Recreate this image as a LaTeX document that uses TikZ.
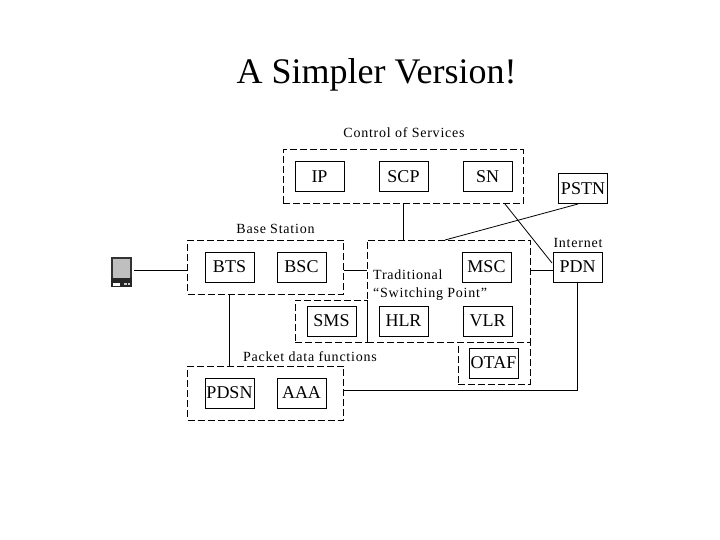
\documentclass[tikz,border=0pt]{standalone}
\usepackage{fontspec}
\setmainfont{Liberation Serif}
\newfontfamily\labfont[LetterSpace=5.5,Ligatures=NoCommon]{Liberation Serif}
\begin{document}
\begin{tikzpicture}[x=1pt,y=-1pt,
  box/.style={draw=black,line width=1pt,minimum width=49pt,minimum height=30pt,inner sep=0pt,font=\fontsize{18}{20}\selectfont},
  group/.style={draw=black,line width=1pt,dash pattern=on 7pt off 3pt,inner sep=0pt},
  lab/.style={inner sep=0pt,font=\labfont\fontsize{14}{16}\selectfont},
  wire/.style={draw=black,line width=1pt},
  thin wire/.style={draw=black,line width=0.8pt}]
\useasboundingbox (0,0) rectangle (720,540);
\fill[white] (0,0) rectangle (720,540);
% groups
\node[group,minimum width=240pt,minimum height=54pt] (ctrl) at (403,177) {};
\node[group,minimum width=156pt,minimum height=54pt] (base) at (265.5,267) {};
\node[group,minimum width=72pt,minimum height=42pt] (smsg) at (331,321) {};
\node[group,minimum width=163pt,minimum height=102pt] (sw) at (448.5,291) {};
\node[group,minimum width=72pt,minimum height=42pt] (otafg) at (494,363) {};
\node[group,minimum width=156pt,minimum height=54pt] (pack) at (265.5,393) {};
% boxes
\node[box] (ip) at (319.5,177) {IP};
\node[box] (scp) at (403.5,177) {SCP};
\node[box] (sn) at (487.5,177) {SN};
\node[box] (pstn) at (583,189) {PSTN};
\node[box] (bts) at (229.5,267) {BTS};
\node[box] (bsc) at (301.5,267) {BSC};
\node[box] (msc) at (486.5,267) {MSC};
\node[box] (pdn) at (577.5,267) {PDN};
\node[box] (sms) at (331.5,321) {SMS};
\node[box] (hlr) at (403.5,321) {HLR};
\node[box] (vlr) at (487.5,321) {VLR};
\node[box] (otaf) at (493.5,363) {OTAF};
\node[box] (pdsn) at (229.5,393) {PDSN};
\node[box] (aaa) at (301.5,393) {AAA};
% labels
\node[inner sep=0pt,font=\fontsize{36}{40}\selectfont] (title) at (376.5,75) {A Simpler Version!};
\node[lab] (lctrl) at (404,132.5) {Control of Services};
\node[lab] (lbase) at (275.5,228.5) {Base Station};
\node[lab] (lnet) at (578,242.5) {Internet};
\node[lab,anchor=west] (ltrad) at (373,274.5) {Traditional};
\node[lab,anchor=west] (lsw) at (373,294) {“Switching Point”};
\node[lab] (lpack) at (310,356.5) {Packet data functions};
% phone
\node[draw=black!80,line width=1.4pt,fill=black!25,minimum width=19pt,minimum height=24pt,inner sep=0pt] (phone) at (121.3,270) {};
\fill[black!85] (111,277) rectangle (132,287);
\fill[black!25] (113,276) rectangle (129.5,278);
\fill[white] (113,283) rectangle (120,285.5);
\fill[black!20] (124,282.5) rectangle (127,285);
\fill[black!20] (128,282.5) rectangle (130,285);
\coordinate (phoneout) at (134,270);
% connectors
\draw[wire] (phoneout) -- (phoneout -| base.west);
\draw[wire] (bts |- base.south) -- (bts |- pack.north);
\draw[wire] (base.east |- 0,270) -- (sw.west |- 0,270);
\draw[wire] (scp |- ctrl.south) -- (scp |- sw.north);
\draw[wire] (sw.east |- 0,270) -- (pdn.west |- 0,270);
\draw[wire] (pdn.south) |- (pack.east |- 0,390);
\coordinate (pstnend) at (445,240);
\coordinate (pstnout) at (578,204);
\draw[thin wire] (pstnout) -- (pstnend);
\coordinate (snstart) at (505,204);
\coordinate (pdnend) at (552,263);
\draw[thin wire] (snstart) -- (pdnend);
\end{tikzpicture}
\end{document}
